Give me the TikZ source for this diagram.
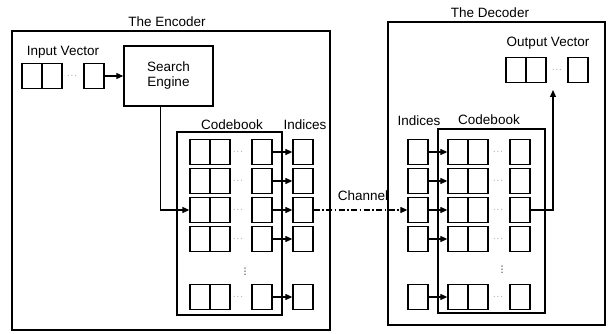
\documentclass[tikz,border=0pt]{standalone}
\usepackage{fontspec}
\setmainfont{Liberation Sans}
\newfontfamily\simboli{DejaVu Sans}
\usetikzlibrary{arrows.meta}
\tikzset{
  cella/.style   = {rectangle, draw, line width=1.3pt, minimum width=20pt, minimum height=25pt, inner sep=0},
  blocco/.style  = {rectangle, draw, line width=1.4pt, minimum width=89pt, minimum height=60pt, align=center, et},
  cornice/.style = {draw, line width=2pt},
  libro/.style   = {draw, line width=1.3pt},
  freccia/.style = {line width=1.2pt, -{Triangle[length=7pt,width=6pt]}},
  canale/.style  = {freccia, dash pattern=on 6pt off 2.5pt on 1.5pt off 2.5pt},
  et/.style      = {font=\fontsize{13.5}{15}\selectfont, inner sep=0},
  pt/.style      = {font=\scriptsize, inner sep=0},
  vpt/.style     = {font=\simboli\small, inner sep=0}
}

\begin{document}
\begin{tikzpicture}[x=1pt,y=-1pt]
  \useasboundingbox (0,0) rectangle (610,334);
  % the encoder
  \draw[cornice] (12,31) rectangle (330,330); \node[et] at (167,22) {The Encoder};
  \node[et] at (63,52) {Input Vector};
  \node[cella] (iva) at (32,76){}; \node[cella] (ivb) at (52,76){}; \node[pt] at (72,76) {$\cdots$}; \node[cella] (ivs) at (94,76){};
  \node[blocco] (se) at (168.5,76) {Search\\Engine}; \draw[freccia] (ivs)--(se);
  \node[et] at (232,125) {Codebook}; \node[et] at (305,125) {Indices};
  \draw[libro] (177,132) rectangle (282,315);
  \node[cella] (e1a) at (200,152){}; \node[cella] (e1b) at (220,152){}; \node[pt] at (238,152) {$\cdots$}; \node[cella] (e1s) at (262,152){}; \node[cella] (e1i) at (303,152){}; \draw[freccia] (e1s)--(e1i);
  \node[cella] (e2a) at (200,181){}; \node[cella] (e2b) at (220,181){}; \node[pt] at (238,181) {$\cdots$}; \node[cella] (e2s) at (262,181){}; \node[cella] (e2i) at (303,181){}; \draw[freccia] (e2s)--(e2i);
  \node[cella] (e3a) at (200,210){}; \node[cella] (e3b) at (220,210){}; \node[pt] at (238,210) {$\cdots$}; \node[cella] (e3s) at (262,210){}; \node[cella] (e3i) at (303,210){}; \draw[freccia] (e3s)--(e3i);
  \node[cella] (e4a) at (200,239){}; \node[cella] (e4b) at (220,239){}; \node[pt] at (238,239) {$\cdots$}; \node[cella] (e4s) at (262,239){}; \node[cella] (e4i) at (303,239){}; \draw[freccia] (e4s)--(e4i);
  \node[vpt] at (245,272) {⋮};
  \node[cella] (e5a) at (200,297){}; \node[cella] (e5b) at (220,297){}; \node[pt] at (238,297) {$\cdots$}; \node[cella] (e5s) at (262,297){}; \node[cella] (e5i) at (303,297){}; \draw[freccia] (e5s)--(e5i);
  \draw[freccia] ([xshift=-8pt]se.south) |- (e3a.west);
  % the decoder
  \draw[cornice] (388,22) rectangle (605,325); \node[et] at (490,13) {The Decoder};
  \node[et] at (548,43) {Output Vector};
  \node[cella] (ova) at (516,70){}; \node[cella] (ovb) at (536,70){}; \node[pt] at (557,70) {$\cdots$}; \node[cella] (ovs) at (578,70){};
  \node[et] at (419,121) {Indices}; \node[et] at (489,120) {Codebook};
  \draw[libro] (438,129) rectangle (545,313);
  \node[cella] (d1i) at (418,152){}; \node[cella] (d1a) at (458,152){}; \node[cella] (d1b) at (478,152){}; \node[pt] at (498,152) {$\cdots$}; \node[cella] (d1s) at (520,152){}; \draw[freccia] (d1i)--(d1a);
  \node[cella] (d2i) at (418,181){}; \node[cella] (d2a) at (458,181){}; \node[cella] (d2b) at (478,181){}; \node[pt] at (498,181) {$\cdots$}; \node[cella] (d2s) at (520,181){}; \draw[freccia] (d2i)--(d2a);
  \node[cella] (d3i) at (418,210){}; \node[cella] (d3a) at (458,210){}; \node[cella] (d3b) at (478,210){}; \node[pt] at (498,210) {$\cdots$}; \node[cella] (d3s) at (520,210){}; \draw[freccia] (d3i)--(d3a);
  \node[cella] (d4i) at (418,239){}; \node[cella] (d4a) at (458,239){}; \node[cella] (d4b) at (478,239){}; \node[pt] at (498,239) {$\cdots$}; \node[cella] (d4s) at (520,239){}; \draw[freccia] (d4i)--(d4a);
  \node[vpt] at (502,270) {⋮};
  \node[cella] (d5i) at (418,297){}; \node[cella] (d5a) at (458,297){}; \node[cella] (d5b) at (478,297){}; \node[pt] at (498,297) {$\cdots$}; \node[cella] (d5s) at (520,297){}; \draw[freccia] (d5i)--(d5a);
  \coordinate (ot) at (553,90);
  \draw[freccia] (d3s.east) -| (ot);
  % the channel
  \draw[canale] (e3i)--(d3i); \node[et] at (363,196) {Channel};
\end{tikzpicture}
\end{document}
